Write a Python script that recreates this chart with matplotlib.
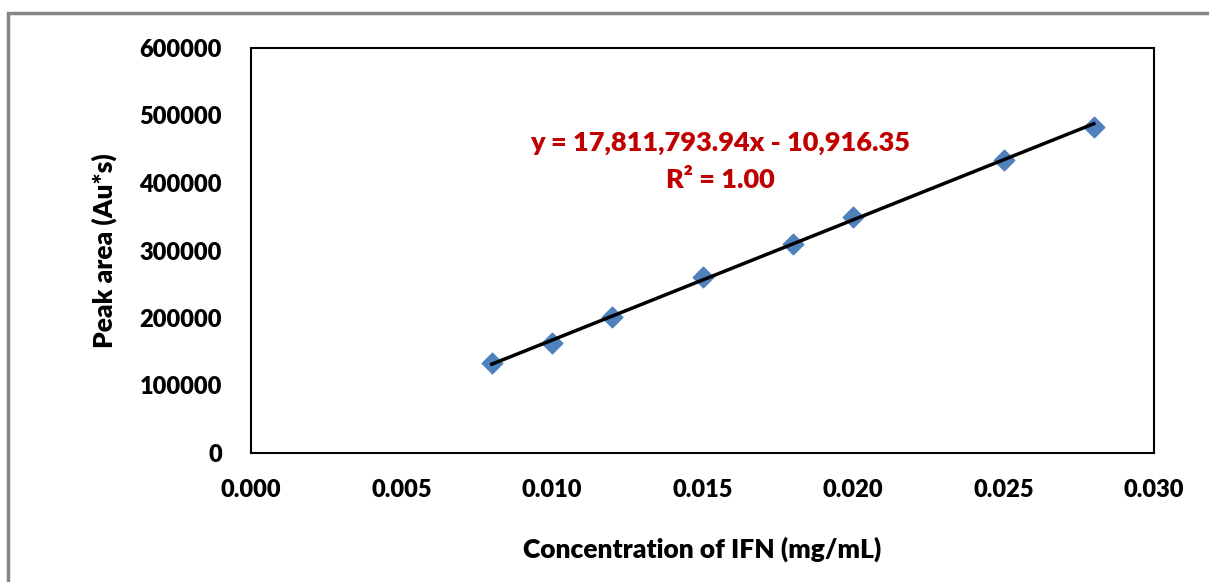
import matplotlib.pyplot as plt
from matplotlib.patches import Rectangle
import numpy as np

plt.rcParams['font.family'] = ['Lato', 'DejaVu Sans']

conc = [0.008, 0.010, 0.012, 0.015, 0.018, 0.020, 0.025, 0.028]
peak_area = [133300, 163000, 201500, 260700, 309600, 349600, 434100, 483000]

slope = 17811793.94
intercept = -10916.35
r_squared = 1.00

xticks = [0.000, 0.005, 0.010, 0.015, 0.020, 0.025, 0.030]
yticks = [0, 100000, 200000, 300000, 400000, 500000, 600000]

fig = plt.figure(figsize=(12.09, 5.82), dpi=100)
W, H = 1209, 582
ax = fig.add_axes([251 / W, 1 - 453 / H, (1154 - 251) / W, (453 - 48) / H])

# outer chart frame
fig.patches.append(Rectangle((8 / W, -0.05), 1.1, 1 - 13 / H + 0.05, transform=fig.transFigure,
                             fill=False, edgecolor='#868686', linewidth=2.5))

ax.scatter(conc, peak_area, marker='D', s=110, color='#4F81BD', zorder=3)
xfit = np.array([min(conc), max(conc)])
ax.plot(xfit, slope * xfit + intercept, color='black', linewidth=2.5, zorder=4)

ax.set_xlim(0, 0.030)
ax.set_ylim(0, 600000)
ax.set_xticks(xticks)
ax.set_yticks(yticks)
ax.set_xticklabels([f"{t:.3f}" for t in xticks])
ax.set_yticklabels([str(t) for t in yticks])
ax.tick_params(length=0, labelsize=17)
ax.tick_params(axis='x', pad=19)
ax.tick_params(axis='y', pad=21)
for lab in ax.get_xticklabels() + ax.get_yticklabels():
    lab.set_fontweight('heavy')

for s in ax.spines.values():
    s.set_linewidth(1.5)
    s.set_color('black')

ax.set_xlabel("Concentration of IFN (mg/mL)", fontsize=19, fontweight='heavy', labelpad=25)
ax.set_ylabel("Peak area (Au*s)", fontsize=19, fontweight='heavy', labelpad=16)

ax.text(0.01558, 459000, f"y = {slope:,.2f}x - {abs(intercept):,.2f}", ha='center', va='center',
        fontsize=19.5, fontweight='heavy', color='#C00000')
ax.text(0.01558, 404000, f"R² = {r_squared:.2f}", ha='center', va='center',
        fontsize=19.5, fontweight='heavy', color='#C00000')

fig.savefig("out.png", dpi=100)
